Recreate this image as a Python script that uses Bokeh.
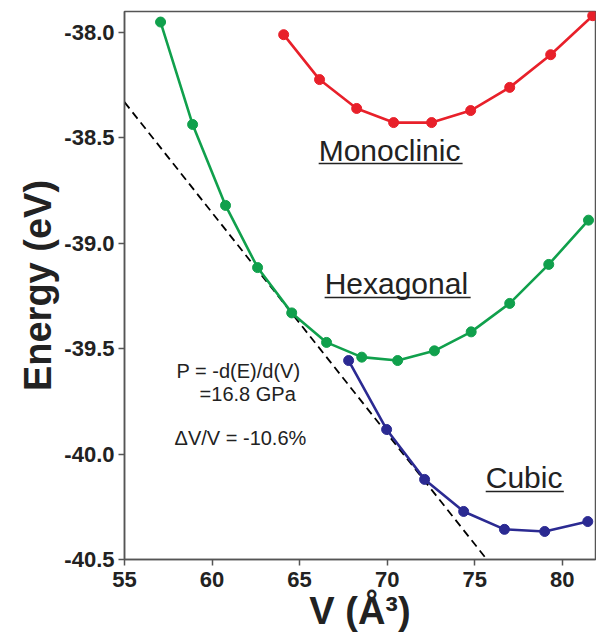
from bokeh.plotting import figure
from bokeh.models import Range1d, FixedTicker, NumeralTickFormatter, ColumnDataSource
from bokeh.core.properties import value
from bokeh.embed import file_html
from bokeh.resources import INLINE

# Monoclinic (red)
mono_v = [64.09, 66.14, 68.26, 70.37, 72.54, 74.77, 77.0, 79.34, 81.74]
mono_e = [-38.01, -38.223, -38.36, -38.427, -38.427, -38.37, -38.26, -38.105, -37.92]

# Hexagonal (green)
hex_v = [57.06, 58.89, 60.77, 62.6, 64.55, 66.54, 68.55, 70.6, 72.7, 74.8, 77.0, 79.23, 81.5]
hex_e = [-37.95, -38.436, -38.82, -39.115, -39.33, -39.47, -39.54, -39.556, -39.51, -39.42, -39.285, -39.10, -38.89]

# Cubic (blue)
cub_v = [67.8, 69.97, 72.14, 74.37, 76.7, 79.0, 81.46]
cub_e = [-39.556, -39.883, -40.12, -40.272, -40.357, -40.367, -40.32]

# Common tangent (dashed)
tan_v = [55.0, 75.6]
tan_e = [-38.33, -40.49]

x_ticks = [55, 60, 65, 70, 75, 80]
y_ticks = [-40.5, -40.0, -39.5, -39.0, -38.5, -38.0]

FONT = "Liberation Sans"

p = figure(width=596, height=638, output_backend="svg", toolbar_location=None,
           x_range=Range1d(55, 81.9), y_range=Range1d(-40.5, -37.9),
           min_border_left=124, min_border_right=1, min_border_top=11, min_border_bottom=79)

p.xgrid.visible = False
p.ygrid.visible = False
p.outline_line_color = "#555555"
p.outline_line_width = 1.5
p.background_fill_color = "white"
p.border_fill_color = "white"

for ax in (p.xaxis[0], p.yaxis[0]):
    ax.axis_line_color = "#555555"
    ax.axis_line_width = 1.5
    ax.major_tick_line_color = "#555555"
    ax.major_tick_line_width = 1.5
    ax.major_tick_out = 6
    ax.major_tick_in = 0
    ax.minor_tick_line_color = None
    ax.major_label_text_font = FONT
    ax.major_label_text_font_style = "bold"
    ax.major_label_text_font_size = "22px"
    ax.major_label_text_color = "#222222"
    ax.axis_label_text_font = FONT
    ax.axis_label_text_font_style = "bold"
    ax.axis_label_text_font_size = "38px"
    ax.axis_label_text_color = "#222222"

p.xaxis.ticker = FixedTicker(ticks=x_ticks)
p.yaxis.ticker = FixedTicker(ticks=y_ticks)
p.yaxis.formatter = NumeralTickFormatter(format="0.0")
p.xaxis.axis_label = "V (Å³)"
p.yaxis.axis_label = "Energy (eV)"
p.xaxis.major_label_standoff = 6
p.yaxis.major_label_standoff = 4
p.xaxis.axis_label_standoff = 0
p.yaxis.axis_label_standoff = 2

# tangent
p.line(tan_v, tan_e, line_color="black", line_width=1.8, line_dash="8 5")

series = [
    (mono_v, mono_e, "#e8202a"),
    (hex_v, hex_e, "#10a04c"),
    (cub_v, cub_e, "#2b2a92"),
]
for vs, es, col in series:
    src = ColumnDataSource(dict(v=vs, e=es))
    p.line("v", "e", source=src, line_color=col, line_width=2.6)
    p.scatter("v", "e", source=src, size=10, fill_color=col, line_color=col)

# phase labels: left x, bottom y of text box, underline y, underline right x
phase_names = ["Monoclinic", "Hexagonal", "Cubic"]
phase_x = [66.09, 66.43, 75.63]
phase_y = [-38.636, -39.267, -40.187]
under_y = [-38.621, -39.257, -40.177]
phase_xr = [74.31, 74.77, 80.09]

p.text(x=phase_x, y=phase_y, text=phase_names, text_font=value(FONT), text_font_size="30px",
       text_color="#222222", text_baseline="bottom", text_align="left")
p.segment(x0=phase_x, y0=under_y, x1=phase_xr, y1=under_y, line_color="#222222", line_width=1.5)

notes = ["P = -d(E)/d(V)", "=16.8 GPa", "ΔV/V = -10.6%"]
notes_x = [57.97, 59.29, 57.86]
notes_y = [-39.660, -39.765, -39.978]
p.text(x=notes_x, y=notes_y, text=notes, text_font=value(FONT), text_font_size="20px",
       text_color="#222222", text_baseline="bottom", text_align="left")

open("out.html", "w").write(file_html(p, INLINE))
